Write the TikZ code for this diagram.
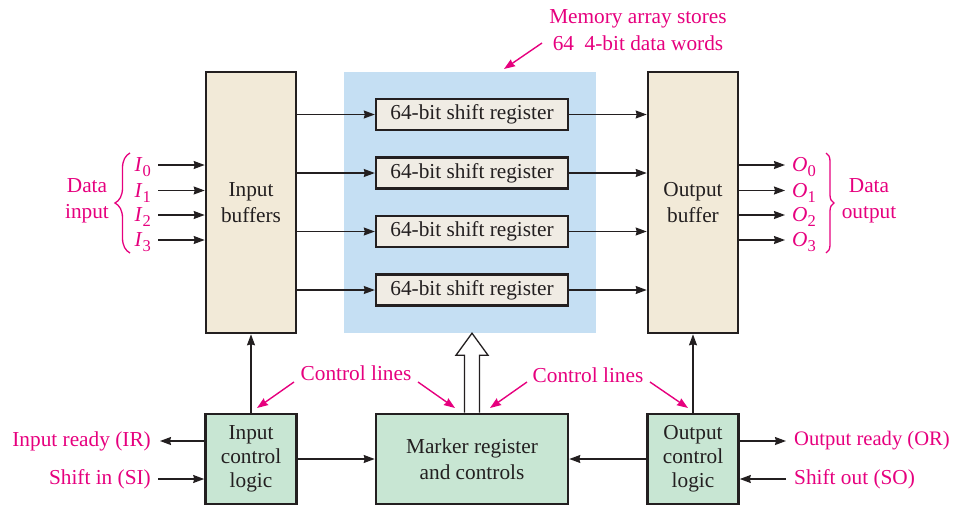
\documentclass[tikz,border=0pt]{standalone}
\usepackage{fontspec}
\setmainfont{Liberation Serif}
\usetikzlibrary{arrows.meta,decorations.pathreplacing,calc}
\definecolor{pinkc}{RGB}{230,0,126}
\definecolor{dark}{RGB}{35,31,32}
\definecolor{tanc}{RGB}{242,234,216}
\definecolor{srfill}{RGB}{240,236,228}
\definecolor{greenc}{RGB}{200,230,211}
\definecolor{bluec}{RGB}{197,223,243}
\newcommand{\sub}[1]{\raisebox{-5pt}[0pt][0pt]{\fontsize{16.5}{16.5}\selectfont #1}}
\begin{document}
\begin{tikzpicture}[x=1pt,y=-1pt,
  every node/.style={font=\fontsize{21.3}{25.5}\selectfont, text=dark},
  bigbox/.style={draw=dark, line width=2.6pt, align=center, inner sep=0pt},
  srbox/.style={draw=dark, line width=2.4pt, fill=srfill, inner sep=0pt, minimum width=192pt, minimum height=31pt},
  lbl/.style={inner sep=0pt, text=pinkc, align=center},
  arr/.style={draw=dark, line width=1.3pt, -{Stealth[length=11pt,width=8pt,inset=1pt]}},
  parr/.style={draw=pinkc, line width=1.4pt, -{Stealth[length=11pt,width=8pt,inset=1pt]}},
  brc/.style={draw=pinkc, line width=1.3pt, decorate}]
\useasboundingbox (0,0) rectangle (954,507);

% memory array background
\node[fill=bluec, inner sep=0pt, minimum width=252pt, minimum height=261pt] (mem) at (470,202.5) {};

% main boxes
\node[bigbox, fill=tanc, minimum width=90pt, minimum height=261pt] (ib) at (251,202.5) {Input\\buffers};
\node[bigbox, fill=tanc, minimum width=90pt, minimum height=261pt] (ob) at (693,202.5) {Output\\buffer};

\node[srbox] (s1) at (472,114.5) {64-bit shift register};
\node[srbox] (s2) at (472,173) {64-bit shift register};
\node[srbox] (s3) at (472,231.5) {64-bit shift register};
\node[srbox] (s4) at (472,290) {64-bit shift register};

\foreach \s in {s1,s2,s3,s4}{
  \draw[arr] (ib.east |- \s) -- (\s.west);
  \draw[arr] (\s.east) -- (ob.west |- \s);
}

% control boxes
\node[bigbox, fill=greenc, minimum width=91pt, minimum height=90pt, font=\fontsize{21.3}{24}\selectfont] (icl) at (251,459) {Input\\control\\logic};
\node[bigbox, fill=greenc, minimum width=192pt, minimum height=90pt] (mk) at (472,459) {Marker register\\and controls};
\node[bigbox, fill=greenc, minimum width=91pt, minimum height=90pt, font=\fontsize{21.3}{24}\selectfont] (ocl) at (693,459) {Output\\control\\logic};

\draw[arr] (icl.north) -- (ib.south);
\draw[arr] (ocl.north) -- (ob.south);
\draw[arr] (icl.east) -- (mk.west);
\draw[arr] (ocl.west) -- (mk.east);

% hollow arrow
\draw[dark, line width=1.3pt, fill=white]
  ($(mk.north)+(-7.5,0)$) -- ($(mem.south -| mk.north)+(-7.5,22)$)
  -- ($(mem.south -| mk.north)+(-16,22)$) -- (mem.south -| mk.north)
  -- ($(mem.south -| mk.north)+(16,22)$) -- ($(mem.south -| mk.north)+(7.5,22)$)
  -- ($(mk.north)+(7.5,0)$);

% data inputs
\node[lbl, anchor=east] (i0) at (151,165) {\textit{I}\sub{0}};
\node[lbl, anchor=east] (i1) at (151,190.5) {\textit{I}\sub{1}};
\node[lbl, anchor=east] (i2) at (151,215) {\textit{I}\sub{2}};
\node[lbl, anchor=east] (i3) at (151,240) {\textit{I}\sub{3}};
\foreach \i in {i0,i1,i2,i3}{
  \draw[arr] ([xshift=7pt]\i.east) -- (ib.west |- \i.east);
}
\draw[brc, decoration={brace, amplitude=15pt}] (130,253) -- (130,153);
\node[lbl] (din) at (87,201) {Data\\input};

% data outputs
\node[lbl, anchor=west] (o0) at (792,165) {\textit{O}\sub{0}};
\node[lbl, anchor=west] (o1) at (792,190.5) {\textit{O}\sub{1}};
\node[lbl, anchor=west] (o2) at (792,215) {\textit{O}\sub{2}};
\node[lbl, anchor=west] (o3) at (792,240) {\textit{O}\sub{3}};
\foreach \o in {o0,o1,o2,o3}{
  \draw[arr] (ob.east |- \o.west) -- ([xshift=-7pt]\o.west);
}
\draw[brc, decoration={brace, amplitude=8pt}] (826,153) -- (826,253);
\node[lbl] (dout) at (869,201) {Data\\output};

% control signals
\node[lbl, anchor=east] (ir) at (151,441) {Input ready (IR)};
\node[lbl, anchor=east] (si) at (151,479) {Shift in (SI)};
\draw[arr] (icl.west |- ir) -- ([xshift=9pt]ir.east);
\draw[arr] ([xshift=7pt]si.east) -- (icl.west |- si);
\node[lbl, anchor=west, font=\fontsize{20.6}{25}\selectfont] (or) at (794,441) {Output ready (OR)};
\node[lbl, anchor=west] (so) at (794,479) {Shift out (SO)};
\draw[arr] (ocl.east |- or) -- ([xshift=-8pt]or.west);
\draw[arr] ([xshift=-8pt]so.west) -- (ocl.east |- so);

% memory label
\node[lbl, font=\fontsize{21.3}{27}\selectfont] (memlbl) at (638,30) {Memory array stores\\64~~4-bit data words};
\coordinate (ma1) at (542,43);
\coordinate (ma2) at (504,69);
\draw[parr] (ma1) -- (ma2);

% control lines labels
\node[lbl] (cl1) at (356,373) {Control lines};
\node[lbl] (cl2) at (588,375) {Control lines};
\coordinate (c1a) at (294,382); \coordinate (c1b) at (257,408);
\coordinate (c2a) at (418,382); \coordinate (c2b) at (455,408);
\coordinate (c3a) at (527,382); \coordinate (c3b) at (490,408);
\coordinate (c4a) at (650,382); \coordinate (c4b) at (688,408);
\draw[parr] (c1a) -- (c1b);
\draw[parr] (c2a) -- (c2b);
\draw[parr] (c3a) -- (c3b);
\draw[parr] (c4a) -- (c4b);
\end{tikzpicture}
\end{document}
